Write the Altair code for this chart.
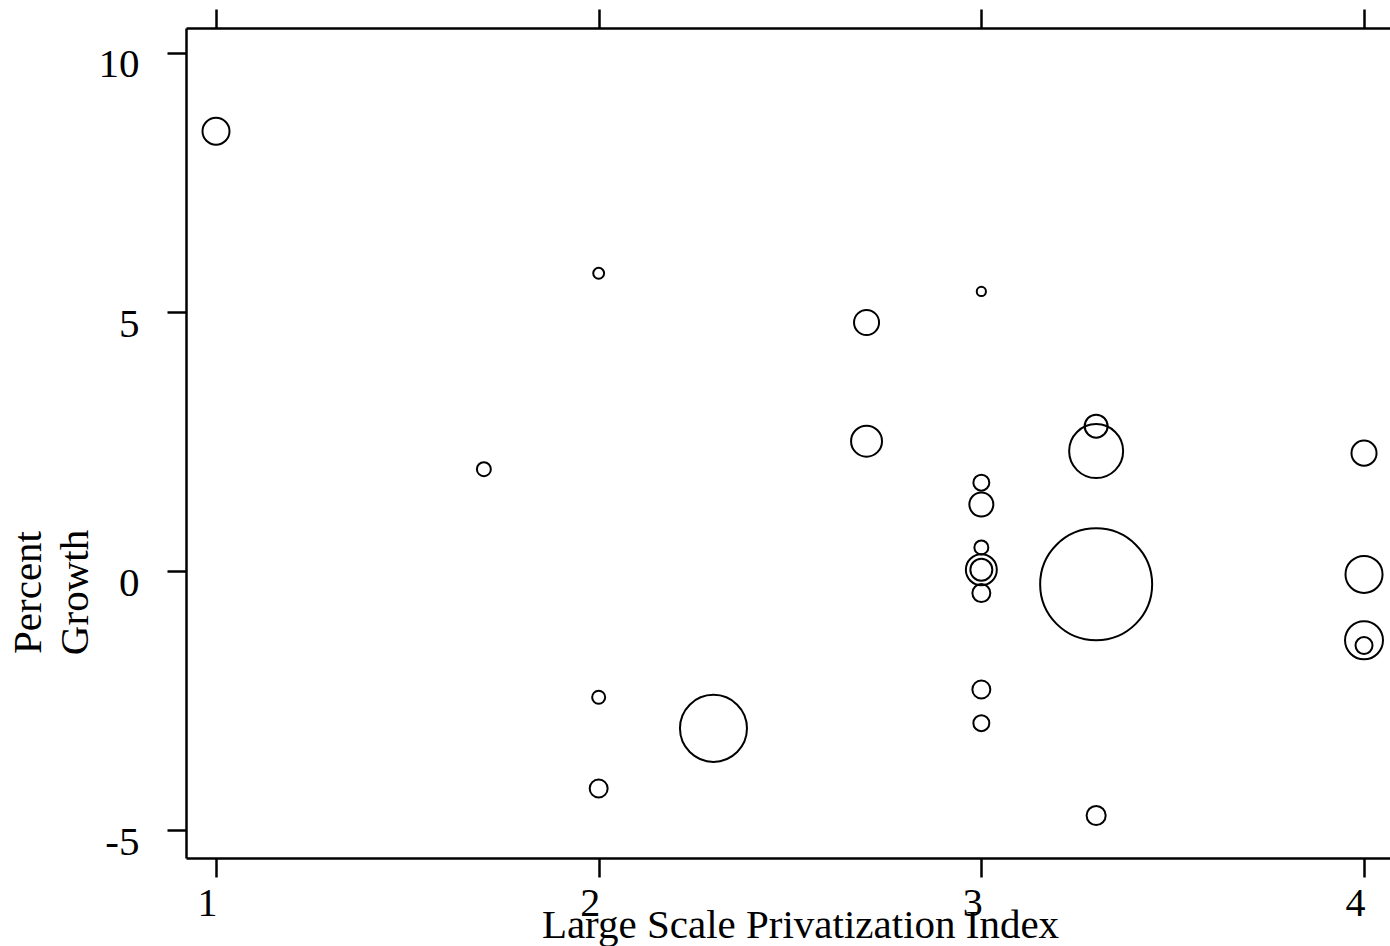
import altair as alt
import pandas as pd

# Large-scale privatization index, GDP growth (%) and population weight (millions)
privatization = [1.0, 1.7, 2.0, 2.0, 2.0, 2.3, 2.7, 2.7, 3.0, 3.0, 3.0, 3.0, 3.0,
                 3.0, 3.0, 3.0, 3.0, 3.3, 3.3, 3.3, 3.3, 4.0, 4.0, 4.0, 4.0]
growth = [8.49, 1.97, 5.75, -2.43, -4.19, -3.03, 4.80, 2.51, 5.40, 1.71, 1.29, 0.46,
          0.03, 0.03, -0.42, -2.28, -2.93, 2.80, 2.32, -0.25, -4.71, 2.28, -0.06,
          -1.33, -1.43]
population = [8.6, 2.3, 1.4, 2.0, 3.8, 53.0, 7.4, 11.3, 1.0, 3.0, 6.8, 2.3,
              11.3, 5.7, 3.8, 3.8, 3.0, 6.2, 34.4, 148.0, 4.3, 7.4, 16.2,
              17.0, 3.4]
x_ticks = [1, 2, 3, 4]
y_ticks = [-5, 0, 5, 10]

df = pd.DataFrame({"priv": privatization, "growth": growth, "pop": population})

FONT = "Liberation Serif"
x_dom = [0.9216, 4.0679]
y_dom = [-5.531, 10.482]

x_scale = alt.Scale(domain=x_dom, nice=False, zero=False)
y_scale = alt.Scale(domain=y_dom, nice=False, zero=False)
# symbol area proportional to population
size_scale = alt.Scale(domain=[0, 148], range=[0, 12544], zero=True)

bubbles = alt.Chart(df).mark_point(
    shape="circle", filled=False, color="black", strokeWidth=2, opacity=1
).encode(
    x=alt.X("priv:Q", scale=x_scale,
            axis=alt.Axis(orient="bottom", values=x_ticks,
                          labelExpr="'' + datum.value",
                          title="Large Scale Privatization Index",
                          titleX=614, titleY=79, titleAlign="center",
                          titleBaseline="alphabetic", titleFontSize=41,
                          labelFontSize=40,
                          labelBaseline="alphabetic", labelPadding=38,
                          labelOffset=-9)),
    y=alt.Y("growth:Q", scale=y_scale,
            axis=alt.Axis(orient="left", values=y_ticks,
                          labelExpr="'' + datum.value",
                          title=["Percent", "Growth"], titleAngle=270,
                          titleX=-178, titleY=564, titleAlign="center",
                          titleBaseline="top", titleFontSize=41,
                          titleLineHeight=47, labelPadding=28,
                          labelFontSize=41,
                          labelBaseline="middle", labelOffset=12)),
    size=alt.Size("pop:Q", scale=size_scale, legend=None),
)

# upper axis: tick marks only
top_axis = alt.Chart(df).mark_point(opacity=0).encode(
    x=alt.X("priv:Q", scale=x_scale,
            axis=alt.Axis(orient="top", values=x_ticks, labels=False,
                          title=None)),
    y=alt.value(0),
)

chart = alt.layer(top_axis, bubbles).properties(
    width=1204, height=830,
    autosize=alt.AutoSizeParams(type="none"),
    padding={"left": 186, "top": 28, "right": 0, "bottom": 88},
    background="white",
).configure_view(
    stroke=None
).configure_axis(
    grid=False,
    domainColor="black", domainWidth=2.5,
    tickColor="black", tickWidth=2.5, tickSize=19,
    labelFont=FONT, labelColor="black",
    titleFont=FONT, titleFontWeight="normal", titleColor="black",
)

chart.save("out.html", embed_options={"renderer": "svg", "actions": False})
